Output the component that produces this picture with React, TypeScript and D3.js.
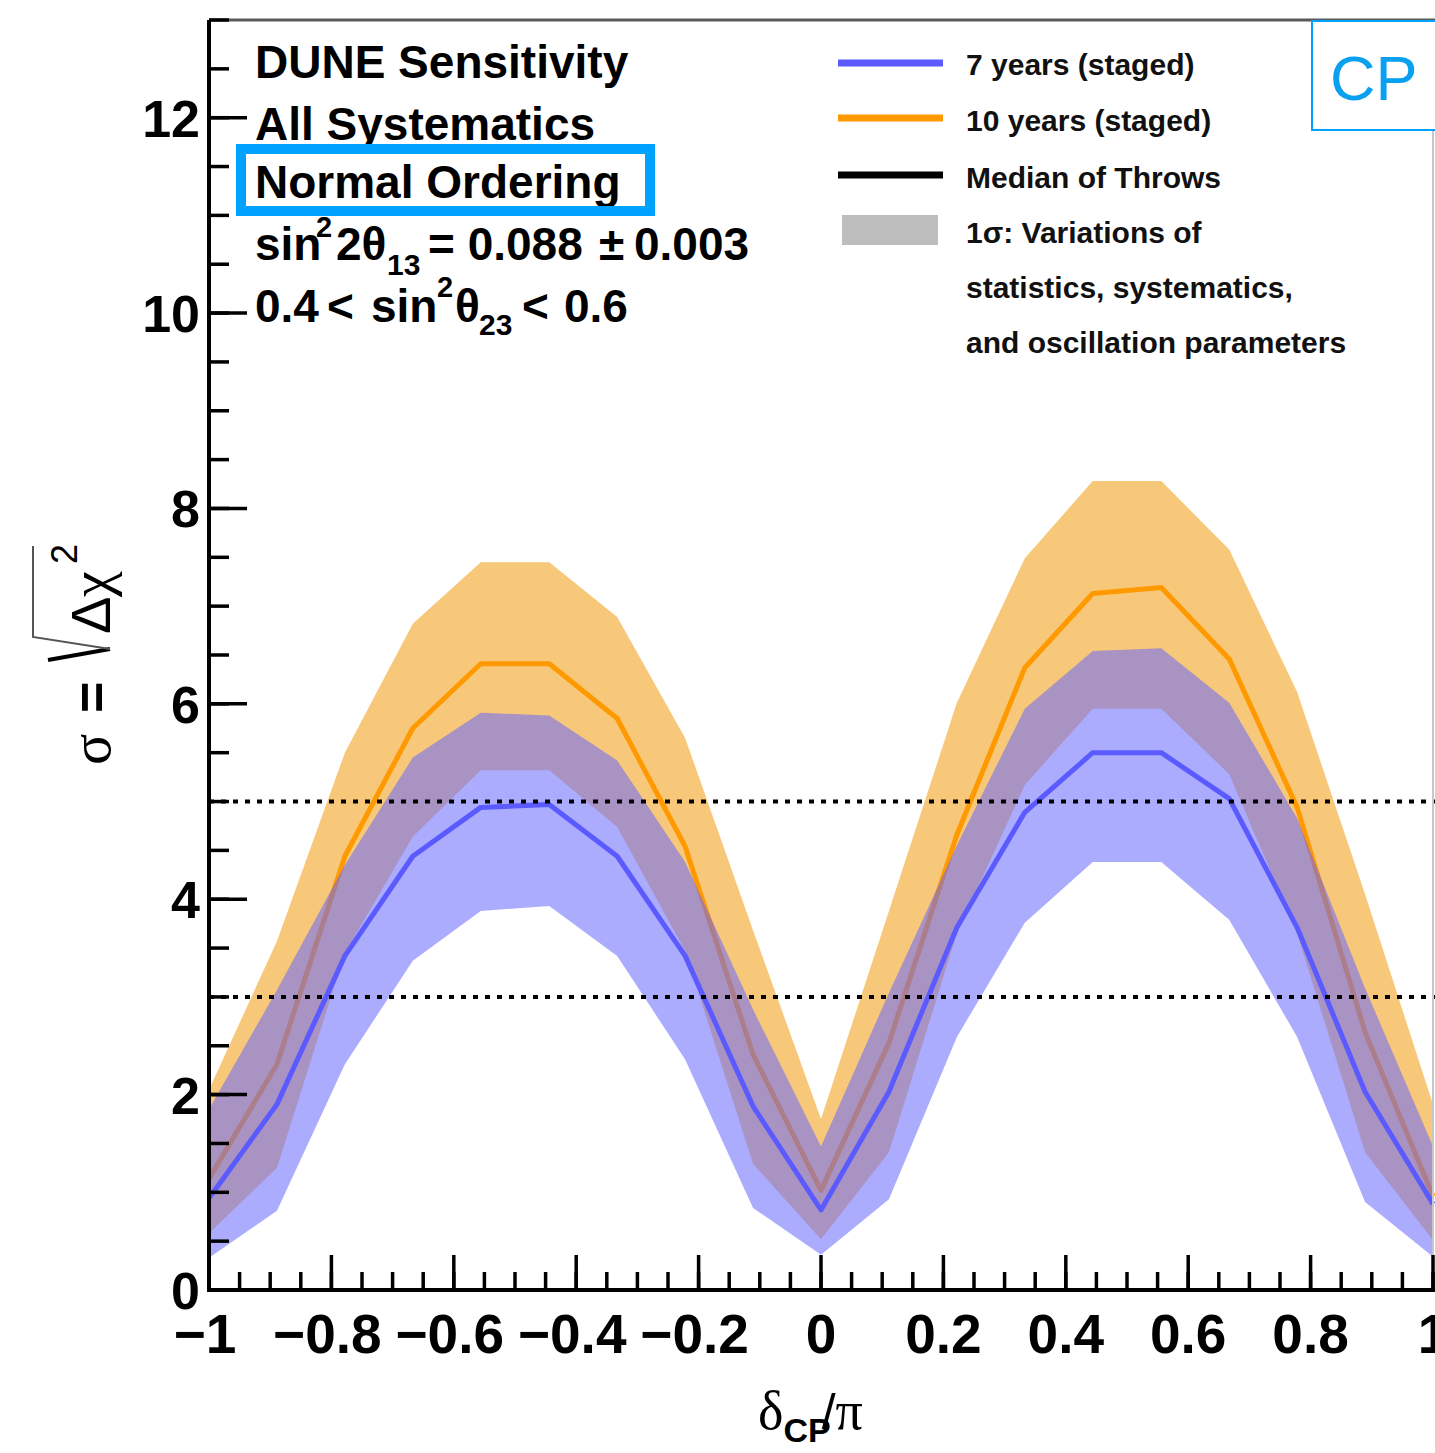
import React, { useEffect } from "react";
import * as d3 from "d3";

// δCP/π sample points (19 bins from -1 to 1)
const deltaCP = [
  -1, -0.889, -0.778, -0.667, -0.556, -0.444, -0.333, -0.222, -0.111, 0,
  0.111, 0.222, 0.333, 0.444, 0.556, 0.667, 0.778, 0.889, 1,
];

// 7 years (staged): median of throws and 1σ band
const med7 = [0.94, 1.9, 3.42, 4.44, 4.94, 4.97, 4.44, 3.42, 1.88, 0.82, 2.03, 3.71, 4.89, 5.5, 5.5, 5.03, 3.71, 2.03, 0.88];
const lo7 = [0.33, 0.81, 2.31, 3.37, 3.88, 3.93, 3.42, 2.36, 0.84, 0.36, 0.93, 2.59, 3.76, 4.38, 4.38, 3.79, 2.59, 0.9, 0.34];
const hi7 = [1.85, 3.07, 4.35, 5.45, 5.91, 5.88, 5.42, 4.38, 2.87, 1.47, 3.04, 4.55, 5.95, 6.54, 6.57, 6.01, 4.83, 3.09, 1.47];

// 10 years (staged): median of throws and 1σ band
const med10 = [1.14, 2.31, 4.44, 5.75, 6.41, 6.41, 5.85, 4.54, 2.41, 1.02, 2.53, 4.66, 6.37, 7.13, 7.19, 6.46, 4.94, 2.64, 0.96];
const lo10 = [0.58, 1.25, 3.45, 4.64, 5.32, 5.32, 4.74, 3.47, 1.29, 0.52, 1.41, 3.65, 5.17, 5.95, 5.95, 5.28, 3.65, 1.41, 0.51];
const hi10 = [2.05, 3.57, 5.5, 6.82, 7.45, 7.45, 6.89, 5.65, 3.68, 1.75, 3.88, 6.01, 7.49, 8.28, 8.28, 7.58, 6.12, 4.05, 1.9];

// Axis ticks
const xMajorTicks = [-1, -0.8, -0.6, -0.4, -0.2, 0, 0.2, 0.4, 0.6, 0.8, 1];
const xTickLabels = ["−1", "−0.8", "−0.6", "−0.4", "−0.2", "0", "0.2", "0.4", "0.6", "0.8", "1"];
const yMajorTicks = [0, 2, 4, 6, 8, 10, 12];
const yTickLabels = ["0", "2", "4", "6", "8", "10", "12"];

// Significance reference levels (3σ, 5σ)
const refLevels = [3, 5];

// Legend entries
const legendNames = ["7 years (staged)", "10 years (staged)", "Median of Throws", "1σ: Variations of"];
const legendExtra = ["statistics, systematics,", "and oscillation parameters"];

const SANS = "'Liberation Sans', Arial, Helvetica, sans-serif";
const SERIF = "'Liberation Serif', 'Times New Roman', serif";

const BLUE_LINE = "#5a5aff";
const ORANGE_LINE = "#ff9900";
const ORANGE_FILL = "#f8c87a";
const BLUE_FILL = "#6666ff";
const HILITE = "#00a2ff";

export default function App() {
  useEffect(() => {
    document.body.style.margin = "0";
  }, []);

  const W = 1435;
  const H = 1453;
  const x = d3.scaleLinear().domain([-1, 1]).range([209, 1433]);
  const y = d3.scaleLinear().domain([0, 13]).range([1290, 20]);

  const idx = deltaCP.map((_, i) => i);
  const band = (lo: number[], hi: number[]) =>
    d3
      .area<number>()
      .x((i) => x(deltaCP[i]))
      .y0((i) => y(lo[i]))
      .y1((i) => y(hi[i]))
      .curve(d3.curveLinear)(idx) || "";
  const line = (v: number[]) =>
    d3
      .line<number>()
      .x((i) => x(deltaCP[i]))
      .y((i) => y(v[i]))
      .curve(d3.curveLinear)(idx) || "";

  const xMinor = x.ticks(40);
  const yMinor = y.ticks(26);
  const x0 = x(-1);
  const y0 = y(0);

  const legendX1 = 838;
  const legendX2 = 943;
  const legendTextX = 966;
  const legendRows = [63, 118, 175];

  return (
    <svg
      width={W}
      height={H}
      viewBox={`0 0 ${W} ${H}`}
      style={{ position: "absolute", left: 0, top: 0, background: "#fff" }}
    >
      <rect x={0} y={0} width={W} height={H} fill="#fff" />

      {/* bands and medians */}
      <path d={band(lo10, hi10)} fill={ORANGE_FILL} />
      <path d={line(med10)} fill="none" stroke={ORANGE_LINE} strokeWidth={5} strokeLinejoin="round" />
      <path d={band(lo7, hi7)} fill={BLUE_FILL} fillOpacity={0.54} />
      <path d={line(med7)} fill="none" stroke={BLUE_LINE} strokeWidth={5} strokeLinejoin="round" />

      {/* 3σ and 5σ reference lines */}
      {refLevels.map((v) => (
        <line
          key={v}
          x1={x0}
          x2={W}
          y1={y(v)}
          y2={y(v)}
          stroke="#000"
          strokeWidth={4}
          strokeDasharray="5 7"
        />
      ))}

      {/* frame */}
      <line x1={x0} x2={W} y1={20} y2={20} stroke="#5a5a5a" strokeWidth={3} />
      <line x1={x(1)} x2={x(1)} y1={20} y2={y0} stroke="#c8c8c8" strokeWidth={2} />

      {/* x axis */}
      {xMinor.map((t) => (
        <line key={"xm" + t} x1={x(t)} x2={x(t)} y1={y0} y2={y0 - 18} stroke="#000" strokeWidth={3.5} />
      ))}
      {xMajorTicks.map((t) => (
        <line key={"xM" + t} x1={x(t)} x2={x(t)} y1={y0} y2={y0 - 35} stroke="#000" strokeWidth={3.5} />
      ))}
      <line x1={x0 - 2} x2={W} y1={y0} y2={y0} stroke="#000" strokeWidth={4} />
      {xMajorTicks.map((t, i) => (
        <text
          key={"xl" + t}
          x={x(t) - (t < 0 ? 4 : 0)}
          y={1353}
          textAnchor="middle"
          fontFamily={SANS}
          fontWeight="bold"
          fontSize={55}
          fill="#000"
        >
          {xTickLabels[i]}
        </text>
      ))}

      {/* y axis */}
      {yMinor.map((t) => (
        <line key={"ym" + t} x1={x0} x2={x0 + 20} y1={y(t)} y2={y(t)} stroke="#000" strokeWidth={3.5} />
      ))}
      {yMajorTicks.map((t) => (
        <line key={"yM" + t} x1={x0} x2={x0 + 38} y1={y(t)} y2={y(t)} stroke="#000" strokeWidth={3.5} />
      ))}
      <line x1={x0} x2={x0} y1={20} y2={y0 + 2} stroke="#000" strokeWidth={4} />
      {yMajorTicks.map((t, i) => (
        <text
          key={"yl" + t}
          x={200}
          y={y(t) + 19}
          textAnchor="end"
          fontFamily={SANS}
          fontWeight="bold"
          fontSize={52}
          fill="#000"
        >
          {yTickLabels[i]}
        </text>
      ))}

      {/* x axis title: δCP/π */}
      <text x={758} y={1429} fill="#000">
        <tspan fontFamily={SERIF} fontSize={54}>δ</tspan>
        <tspan fontFamily={SANS} fontWeight="bold" fontSize={34} dy={13}>CP</tspan>
        <tspan fontFamily={SANS} fontSize={50} dx={-9} dy={-13}>/</tspan>
        <tspan fontFamily={SERIF} fontSize={54}>π</tspan>
      </text>

      {/* y axis title: σ = √Δχ² */}
      <g transform="translate(110,765) rotate(-90)" fill="#000">
        <text x={0} y={0} fontFamily={SERIF} fontSize={58}>σ</text>
        <text x={52} y={0} fontFamily={SANS} fontWeight="bold" fontSize={54}>=</text>
        <path d="M105,-62 L116,0" stroke="#000" strokeWidth={4} fill="none" />
        <path d="M116,0 L128,-77 L219,-77" stroke="#555" strokeWidth={2} fill="none" />
        <text x={131} y={0} fontFamily={SANS} fontSize={56}>Δ</text>
        <text x={168} y={0} fontFamily={SERIF} fontSize={58}>χ</text>
        <text x={201} y={-33} fontFamily={SANS} fontSize={36}>2</text>
      </g>

      {/* info text */}
      <g fontFamily={SANS} fontWeight="bold" fill="#000">
        <text x={255} y={78} fontSize={46}>DUNE Sensitivity</text>
        <text x={255} y={140} fontSize={46}>All Systematics</text>
        <text x={255} y={198} fontSize={46}>Normal Ordering</text>
        <text y={260} fontSize={46}>
          <tspan x={255}>sin</tspan>
          <tspan x={316} fontSize={29} dy={-23}>2</tspan>
          <tspan x={336} dy={23}>2θ</tspan>
          <tspan x={387} fontSize={30} dy={15}>13</tspan>
          <tspan x={428} dy={-15}>= 0.088</tspan>
          <tspan x={599}>±</tspan>
          <tspan x={634}>0.003</tspan>
        </text>
        <text y={322} fontSize={46}>
          <tspan x={255}>0.4</tspan>
          <tspan x={327}>&lt;</tspan>
          <tspan x={371}>sin</tspan>
          <tspan x={437} fontSize={29} dy={-25}>2</tspan>
          <tspan x={455} dy={25}>θ</tspan>
          <tspan x={479} fontSize={30} dy={13}>23</tspan>
          <tspan x={522} dy={-13}>&lt;</tspan>
          <tspan x={564}>0.6</tspan>
        </text>
      </g>
      <rect x={241} y={149} width={409} height={62} fill="none" stroke={HILITE} strokeWidth={10} />

      {/* legend */}
      <line x1={legendX1} x2={legendX2} y1={legendRows[0]} y2={legendRows[0]} stroke={BLUE_LINE} strokeWidth={7} />
      <line x1={legendX1} x2={legendX2} y1={legendRows[1]} y2={legendRows[1]} stroke={ORANGE_LINE} strokeWidth={7} />
      <line x1={legendX1} x2={legendX2} y1={legendRows[2]} y2={legendRows[2]} stroke="#000" strokeWidth={7} />
      <rect x={842} y={215} width={96} height={30} fill="#bdbdbd" />
      <g fontFamily={SANS} fontWeight="bold" fontSize={30} fill="#111">
        <text x={legendTextX} y={75}>{legendNames[0]}</text>
        <text x={legendTextX} y={131}>{legendNames[1]}</text>
        <text x={legendTextX} y={188}>{legendNames[2]}</text>
        <text x={legendTextX} y={243}>{legendNames[3]}</text>
        <text x={legendTextX} y={298}>{legendExtra[0]}</text>
        <text x={legendTextX} y={353}>{legendExtra[1]}</text>
      </g>

      {/* CP tag */}
      <rect x={1312} y={21} width={130} height={109} fill="#fff" stroke={HILITE} strokeWidth={2} />
      <text x={1330} y={100} fontFamily={SANS} fontSize={63} fill="#0aa0f0">CP</text>
    </svg>
  );
}
